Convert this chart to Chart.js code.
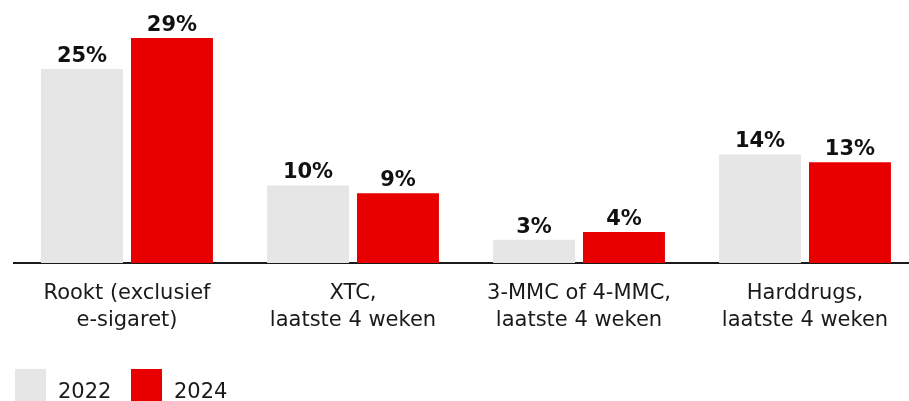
<!DOCTYPE html>
<html>
<head>
<meta charset="utf-8">
<script src="https://cdn.jsdelivr.net/npm/chart.js@4.4.1/dist/chart.umd.min.js"></script>
<style>
  html, body { margin: 0; padding: 0; background: #fff; overflow: hidden; }
  #wrap { position: relative; width: 918px; height: 401px; }
</style>
</head>
<body>
<div id="wrap"><canvas id="chart" width="918" height="401"></canvas></div>
<script>
// Categories (multi-line labels)
const categories = [
  ['Rookt (exclusief', 'e-sigaret)'],
  ['XTC,', 'laatste 4 weken'],
  ['3-MMC of 4-MMC,', 'laatste 4 weken'],
  ['Harddrugs,', 'laatste 4 weken']
];
const seriesNames = ['2022', '2024'];
const values2022 = [25, 10, 3, 14];
const values2024 = [29, 9, 4, 13];

const GREY = '#e6e6e6';
const RED = '#e80000';
const TEXT = '#1a1a1a';
const FONT = '"DejaVu Sans", sans-serif';

// Percent labels above each bar
const valueLabels = {
  id: 'valueLabels',
  afterDatasetsDraw(chart) {
    const ctx = chart.ctx;
    ctx.save();
    ctx.font = 'bold 21px ' + FONT;
    ctx.fillStyle = '#111';
    ctx.textAlign = 'center';
    ctx.textBaseline = 'alphabetic';
    chart.data.datasets.forEach((ds, i) => {
      chart.getDatasetMeta(i).data.forEach((bar, j) => {
        ctx.fillText(ds.data[j] + '%', bar.x, bar.y - 7);
      });
    });
    ctx.restore();
  }
};

// Legend row along the bottom-left
const bottomLegend = {
  id: 'bottomLegend',
  afterDraw(chart) {
    const ctx = chart.ctx;
    ctx.save();
    ctx.font = '21px ' + FONT;
    ctx.textBaseline = 'alphabetic';
    ctx.textAlign = 'left';
    let x = 15;
    chart.data.datasets.forEach((ds) => {
      ctx.fillStyle = ds.backgroundColor;
      ctx.fillRect(x, 369, 31, 40);
      ctx.fillStyle = TEXT;
      ctx.fillText(ds.label, x + 43, 398);
      x += 116;
    });
    ctx.restore();
  }
};

new Chart(document.getElementById('chart'), {
  type: 'bar',
  data: {
    labels: categories,
    datasets: [
      { label: seriesNames[0], data: values2022, backgroundColor: GREY },
      { label: seriesNames[1], data: values2024, backgroundColor: RED }
    ]
  },
  options: {
    responsive: false,
    animation: false,
    events: [],
    layout: { padding: { left: 14, right: 0, top: 0, bottom: 0 } },
    datasets: {
      bar: { categoryPercentage: 0.796, barPercentage: 0.911 }
    },
    plugins: {
      legend: { display: false },
      tooltip: { enabled: false }
    },
    scales: {
      x: {
        grid: { display: false, drawTicks: false },
        border: { display: true, color: '#1a1a1a', width: 2 },
        ticks: {
          color: TEXT,
          font: { family: FONT, size: 21, lineHeight: 1.24 },
          padding: 18,
          maxRotation: 0,
          autoSkip: false
        },
        afterFit(scale) { scale.height = 138; }
      },
      y: {
        display: false,
        min: 0,
        max: 33.9
      }
    }
  },
  plugins: [valueLabels, bottomLegend]
});
</script>
</body>
</html>
